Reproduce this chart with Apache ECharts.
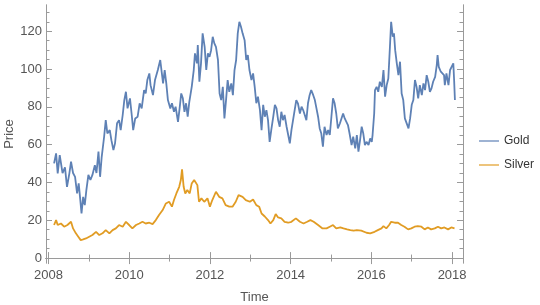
<!DOCTYPE html>
<html><head><meta charset="utf-8">
<script src="https://cdn.jsdelivr.net/npm/echarts@6/dist/echarts.min.js"></script>
<style>html,body{margin:0;padding:0;background:#fff}#c{width:540px;height:305px}</style>
</head><body><div id="c"></div>
<script>
const goldTime=[2008.14,2008.19,2008.23,2008.28,2008.35,2008.41,2008.46,2008.52,2008.56,2008.61,2008.66,2008.71,2008.75,2008.79,2008.82,2008.86,2008.90,2008.94,2008.99,2009.04,2009.09,2009.15,2009.19,2009.24,2009.28,2009.32,2009.38,2009.42,2009.46,2009.52,2009.56,2009.61,2009.65,2009.70,2009.75,2009.79,2009.84,2009.88,2009.92,2009.96,2010.02,2010.06,2010.10,2010.15,2010.21,2010.26,2010.31,2010.37,2010.41,2010.45,2010.50,
2010.53,2010.59,2010.64,2010.71,2010.77,2010.81,2010.84,2010.88,2010.92,2010.96,2011.02,2011.06,2011.11,2011.15,2011.21,2011.25,2011.29,2011.33,2011.37,2011.41,2011.45,2011.49,2011.55,2011.60,2011.63,2011.68,2011.70,2011.74,2011.78,2011.82,2011.87,2011.91,2011.95,2011.99,2012.03,2012.07,2012.11,2012.15,2012.20,2012.24,2012.28,2012.32,2012.36,2012.40,2012.44,2012.48,2012.53,2012.57,2012.61,2012.65,2012.69,2012.73,2012.77,2012.81,2012.86,2012.90,2012.94,2012.98,
2013.03,2013.07,2013.11,2013.15,2013.19,2013.24,2013.28,2013.32,2013.36,2013.40,2013.44,2013.48,2013.52,2013.57,2013.61,2013.65,2013.69,2013.73,2013.77,2013.81,2013.85,2013.90,2013.94,2013.98,2014.02,2014.06,2014.10,2014.14,2014.18,2014.23,2014.27,2014.31,2014.35,2014.39,2014.43,2014.47,2014.51,2014.56,2014.60,2014.64,2014.68,2014.72,2014.76,2014.80,2014.84,2014.89,2014.93,2014.97,2015.01,2015.05,2015.09,2015.13,2015.17,2015.22,2015.26,2015.30,2015.34,2015.38,2015.42,2015.46,
2015.51,2015.55,2015.60,2015.64,2015.68,2015.72,2015.76,2015.80,2015.84,2015.88,2015.93,2015.97,2016.01,2016.03,2016.07,2016.09,2016.13,2016.17,2016.21,2016.26,2016.30,2016.34,2016.38,2016.42,2016.46,2016.49,2016.53,2016.56,2016.59,2016.63,2016.67,2016.71,2016.75,2016.79,2016.83,2016.87,2016.92,2016.96,2017.00,2017.04,2017.08,2017.12,2017.16,2017.20,2017.25,2017.29,2017.33,2017.37,2017.41,2017.45,2017.49,2017.53,2017.58,2017.62,2017.64,2017.67,2017.72,2017.76,2017.80,2017.82,2017.86,2017.91,2017.95,2017.99,2018.03,2018.05,2018.07];
const goldPrice=[50.1,55.4,44.8,54.5,45,48,37.7,45,51,45,43,34.2,39.5,30.7,23.6,32.4,28,36,44,41.3,44,49.2,45,56.3,43,53.6,64.2,73,66,67.7,62.4,57.1,60.7,71.3,73,67.7,75.7,83.6,88,79.2,84.5,76.5,67.7,73.9,74.8,81.9,79.2,88.9,87.2,94.2,97.7,
91.5,86.2,94.2,99.5,104.8,97.7,92.4,99.5,92.4,83.6,79.2,81.9,77.4,80.1,72.1,79.2,87.1,84.5,77.4,81.9,74.8,82.7,90.6,99.5,108.3,103,112.7,93.3,103,118.9,111.8,99.5,108.3,106.5,110,117.1,113.6,111.8,104.8,87.1,83.6,90.6,73.9,83.6,94.2,88,92.4,86.2,99.5,104.8,118.9,125,122.4,118.9,115.3,104.8,107.4,99.5,
94.2,97.7,90.6,81.9,85.4,78.3,67.7,81.1,74.8,78.3,73,61.5,67.7,74.8,81.1,79.2,73,69.5,77.4,73,75.7,69.5,65.1,60.7,67.7,73,78.3,83.6,81.9,76.5,80.1,78.3,75.7,73,81.9,86.2,88.9,86.2,83.6,79.2,74.8,68.6,65.9,58.9,69.5,65.1,67.7,65.1,74.8,84.5,81.9,76.5,68.6,71.2,73.9,76.5,73.9,73,70.4,65.9,
59.8,64.2,58,65.1,56.3,62.4,69.5,65.9,59.8,61.5,59.8,63.3,61.5,65.1,76.5,88.9,90.6,88,93.3,90.6,99.5,85.4,91.5,95,111.8,125,117.1,118.9,110,103,96.8,103.9,87.1,83.6,73.9,73,68.6,73.9,81.1,83.6,94.2,90.6,84.5,91.5,86.2,92.4,88.9,96.8,93.3,88,89.8,93.3,95.9,102.1,107.4,101.2,98.6,99.5,96.8,91.5,97.7,91.5,99.5,100.4,103,94.2,83.6];
const silverTime=[2008.14,2008.19,2008.23,2008.31,2008.39,2008.47,2008.56,2008.61,2008.68,2008.74,2008.80,2008.86,2008.93,2009.01,2009.09,2009.18,2009.26,2009.34,2009.42,2009.51,2009.59,2009.67,2009.75,2009.84,2009.92,2010.00,2010.08,2010.17,2010.25,2010.33,2010.41,2010.50,2010.58,2010.66,2010.74,2010.83,2010.91,2010.99,2011.06,2011.11,2011.17,2011.24,2011.28,2011.31,2011.35,2011.39,2011.44,2011.50,2011.55,2011.61,2011.65,2011.69,2011.73,2011.79,2011.86,2011.94,2012.00,2012.06,2012.15,2012.23,2012.31,2012.39,2012.48,2012.56,2012.64,2012.71,2012.81,2012.89,2012.99,
2013.07,2013.15,2013.22,2013.28,2013.36,2013.44,2013.50,2013.57,2013.63,2013.69,2013.77,2013.85,2013.94,2014.02,2014.13,2014.23,2014.32,2014.41,2014.49,2014.57,2014.68,2014.79,2014.89,2014.97,2015.05,2015.13,2015.23,2015.31,2015.40,2015.48,2015.56,2015.64,2015.75,2015.88,2015.97,2016.08,2016.16,2016.25,2016.30,2016.37,2016.44,2016.49,2016.58,2016.66,2016.74,2016.82,2016.91,2016.99,2017.07,2017.15,2017.24,2017.32,2017.40,2017.48,2017.57,2017.65,2017.73,2017.81,2017.90,2017.98,2018.06];
const silverPrice=[17.5,20.1,17.5,18.3,16.6,17.5,19.2,15.7,13.1,11.3,9.5,9.9,10.4,11.3,12.2,13.9,12.2,13.1,14.8,13.1,14.8,15.7,17.5,16.6,19.2,17.5,15.7,17.5,18.3,19.2,18.3,18.7,18,20.1,22.8,25.4,28.9,29.8,27.2,30.7,34.2,37.7,41.3,46.9,37.7,34.2,36,34.2,39.5,41.3,42.2,38.6,29.8,31.6,29.8,31.6,27.2,30.7,35.1,32.4,31.6,28,27.2,27.2,29.8,33.3,32.4,30.7,29.8,
31,28,27.2,23.6,22,20.1,18.3,20.1,23.3,21.5,21,19.2,18.7,19.2,21,19.2,18.3,19.2,20.1,19.2,17.5,15.7,15.7,16.6,17.5,15.7,16.2,15.7,15.2,14.8,14.5,14.8,14.5,13.4,13.1,13.9,14.8,15.7,16.9,15.7,17.5,19.2,18.7,18.7,17.5,16.6,15.2,15.7,16.6,16.9,16.6,15.2,16.2,15.2,15.7,16.6,15.7,16.2,15.2,16.2,15.7];
const seriesNames=['Gold','Silver'];
const xMajorTicks=[2008,2010,2012,2014,2016,2018];
const xMinorTicks=[2009,2011,2013,2015,2017];
const yMajorTicks=[0,20,40,60,80,100,120];
const yMinorTicks=[5,10,15,25,30,35,45,50,55,65,70,75,85,90,95,105,110,115,125,130];
const xTitle='Time', yTitle='Price';

const frame='#9a9a9a', txt='#555';
const FONT='Liberation Sans, Arial, sans-serif';
const X0=2007.94, X1=2018.27, Y0=-2.6, Y1=133.9;
function zip(a,b){return a.map((v,i)=>[v,b[i]]);}
function xa(pos,ticks,len,labels){
  return {type:'value',position:pos,min:X0,max:X1,gridIndex:0,
    axisLine:{show:true,lineStyle:{color:frame,width:1}},
    axisTick:{show:true,inside:true,length:len,customValues:ticks,lineStyle:{color:frame}},
    axisLabel:labels?{show:true,customValues:ticks,color:txt,fontSize:13,margin:6,fontFamily:FONT,formatter:v=>String(Math.round(v))}:{show:false},
    splitLine:{show:false},
    name:labels?xTitle:'',nameLocation:'middle',nameGap:28,nameMoveOverlap:false,
    nameTextStyle:{color:txt,fontSize:13,fontFamily:FONT}};
}
function ya(pos,ticks,len,labels){
  return {type:'value',position:pos,min:Y0,max:Y1,gridIndex:0,
    axisLine:{show:true,lineStyle:{color:frame,width:1}},
    axisTick:{show:true,inside:true,length:len,customValues:ticks,lineStyle:{color:frame}},
    axisLabel:labels?{show:true,customValues:ticks,color:txt,fontSize:13,margin:4,fontFamily:FONT,formatter:v=>String(Math.round(v))}:{show:false},
    splitLine:{show:false},
    name:labels?yTitle:'',nameLocation:'middle',nameGap:30,nameRotate:90,nameMoveOverlap:false,
    nameTextStyle:{color:txt,fontSize:13,fontFamily:FONT}};
}
const chart=echarts.init(document.getElementById('c'),null,{renderer:'canvas'});
chart.setOption({
  animation:false,
  backgroundColor:'#fff',
  grid:{left:46,top:5,width:417,height:258,containLabel:false,outerBoundsMode:'none'},
  xAxis:[xa('bottom',xMajorTicks,6,true),xa('bottom',xMinorTicks,3.5,false),xa('top',xMajorTicks,6,false),xa('top',xMinorTicks,3.5,false)],
  yAxis:[ya('left',yMajorTicks,6,true),ya('left',yMinorTicks,3.5,false),ya('right',yMajorTicks,6,false),ya('right',yMinorTicks,3.5,false)],
  legend:{data:seriesNames,orient:'vertical',left:479,top:135,padding:0,icon:'rect',itemWidth:20,itemHeight:2,itemGap:12,
    itemStyle:{opacity:0.6},
    textStyle:{color:'#333',fontSize:12,fontFamily:FONT}},
  series:[
    {name:seriesNames[0],type:'line',data:zip(goldTime,goldPrice),symbol:'none',showSymbol:false,
      lineStyle:{color:'#5E81B5',width:1.8},itemStyle:{color:'#5E81B5'},xAxisIndex:0,yAxisIndex:0},
    {name:seriesNames[1],type:'line',data:zip(silverTime,silverPrice),symbol:'none',showSymbol:false,
      lineStyle:{color:'#E19C24',width:1.8},itemStyle:{color:'#E19C24'},xAxisIndex:0,yAxisIndex:0}
  ]
});
</script></body></html>
